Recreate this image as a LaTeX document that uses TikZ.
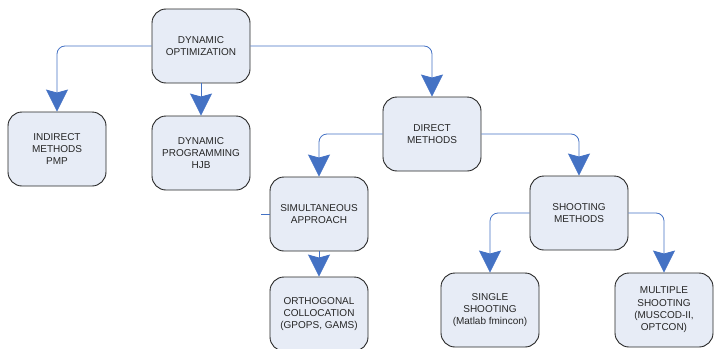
\documentclass[tikz,border=0pt]{standalone}
\usepackage{fontspec}
\setmainfont{Liberation Sans}
\usetikzlibrary{arrows.meta}
\definecolor{boxfill}{HTML}{E7ECF6}
\definecolor{linkblue}{HTML}{4472C4}
\begin{document}
\begin{tikzpicture}[x=1pt, y=-1pt, >={Stealth[width=22pt,length=22pt,inset=3pt]}]
      \tikzset{
  method/.style={
    rectangle,
    draw=black!85,
    line width=.9pt,
    fill=boxfill,
    rounded corners=14pt,
    minimum width=98pt,
    minimum height=74pt,
    align=center,
    text=black!85,
    font=\fontsize{10}{12.3}\selectfont
  },
  link/.style={
    draw=linkblue,
    line width=.8pt,
    rounded corners=8pt
  }
}

\useasboundingbox (0,0) rectangle (714,348);

\node [method] (dynopt) at (201,46) {DYNAMIC\\OPTIMIZATION};
\node [method] (indirect) at (57,149) {INDIRECT\\METHODS\\PMP};
\node [method] (dynprog) at (201,153) {DYNAMIC\\PROGRAMMING\\HJB};
\node [method] (direct) at (432,134) {DIRECT\\METHODS};
\node [method] (simult) at (319,214) {SIMULTANEOUS\\APPROACH};
\node [method] (shooting) at (579,213) {SHOOTING\\METHODS};
\node [method] (ortho) at (319,314) {ORTHOGONAL\\COLLOCATION\\(GPOPS, GAMS)};
\node [method] (single) at (490,310) {SINGLE\\SHOOTING\\(Matlab fmincon)};
\node [method] (multiple) at (664,310) {MULTIPLE\\SHOOTING\\(MUSCOD-II,\\OPTCON)};

% loose end left of the simultaneous box
\coordinate (stub) at (261,214);

\draw [link, ->] (dynopt.west) -| (indirect.north);
\draw [link, ->] (dynopt.south) -- (dynprog.north);
\draw [link, ->] (dynopt.east) -| (direct.north);
\draw [link, ->] (direct.west) -| (simult.north);
\draw [link, ->] (direct.east) -| (shooting.north);
\draw [link, ->] (simult.south) -- (ortho.north);
\draw [link, ->] (shooting.west) -| (single.north);
\draw [link, ->] (shooting.east) -| (multiple.north);
\draw [link] (stub) -- (simult.west);
    \end{tikzpicture}
\end{document}
